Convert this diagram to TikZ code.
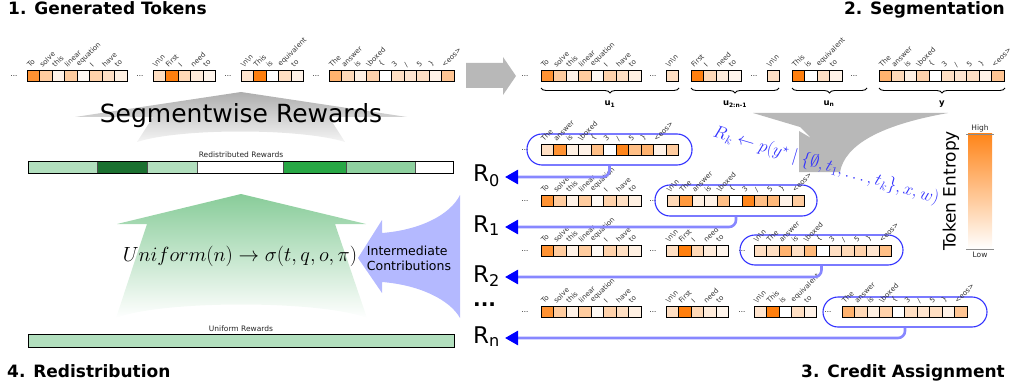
\RequirePackage{fix-cm}
\documentclass[tikz,border=0pt]{standalone}
\usepackage{amsmath,amssymb}
\usepackage[no-math]{fontspec}
\setmainfont{DejaVu Sans}
\usetikzlibrary{arrows.meta,decorations.pathreplacing}

\definecolor{ent}{RGB}{255,127,14}
\definecolor{gA}{RGB}{178,223,190}
\definecolor{gB}{RGB}{27,112,48}
\definecolor{gC}{RGB}{40,167,69}
\definecolor{gD}{RGB}{143,209,160}
\definecolor{agreen}{RGB}{136,204,153}
\definecolor{lblue}{RGB}{180,185,255}
\definecolor{fblue}{RGB}{50,50,255}
\definecolor{lineblue}{RGB}{135,135,255}

\newcommand\nn{\textbackslash n\textbackslash n}
\newcommand\bx{\textbackslash boxed}
\newcommand\tsl{/}
\newcommand\eos{<eos>}

\newcommand\GA{85/To,40/solve,10/this,40/linear,5/equation,35/I,25/have,12/to}
\newcommand\GB{25/\nn,100/First,30/I,15/need,8/to}
\newcommand\GBb{100/First,30/I,15/need,8/to}
\newcommand\GC{20/\nn,100/This,0/is,25/equivalent,10/to}
\newcommand\GCb{100/This,0/is,25/equivalent,10/to}
\newcommand\GD{60/The,30/answer,12/is,35/\bx,0/\{,25/3,20/\tsl,25/5,10/\},45/\eos}
\newcommand\NN{25/\nn}
\newcommand\RA{25/The,85/answer,12/is,10/\bx,50/\{,0/3,95/\tsl,50/5,60/\},10/\eos,40/{}}
\newcommand\RB{30/\nn,80/The,12/answer,10/is,50/\bx,0/\{,95/3,50/\tsl,55/5,10/\},40/\eos}
\newcommand\RC{25/\nn,25/The,60/answer,25/is,55/\bx,0/\{,25/3,30/\tsl,35/5,20/\},50/\eos}

\tikzset{
  cellbox/.style={draw=black, line width=0.7pt, minimum width=12.5pt, minimum height=11.5pt, inner sep=0pt, outer sep=0pt},
  toklabel/.style={font=\fontsize{7}{7}\selectfont, rotate=45, anchor=south west, inner sep=0.3pt, text=black!80},
  dots/.style={font=\fontsize{7}{7}\selectfont, inner sep=0pt},
  title/.style={font=\bfseries\fontsize{17}{17}\selectfont, inner sep=0pt},
  rlab/.style={font=\fontsize{23}{23}\selectfont, inner sep=0pt, anchor=base west},
  credbox/.style={draw=fblue, line width=1.1pt, rounded corners=15pt, inner sep=0pt},
  credarrow/.style={draw=lineblue, line width=2.6pt, rounded corners=7pt, -{Triangle[length=13pt,width=14pt,color=blue]}},
  barlab/.style={font=\fontsize{7.5}{7.5}\selectfont, inner sep=0pt, text=black!85},
  brlab/.style={font=\bfseries\fontsize{8.5}{8.5}\selectfont, inner sep=0pt},
  segbrace/.style={decorate, decoration={brace, mirror, amplitude=5pt}, line width=0.9pt},
}

\newcommand\cellrow[4]{%
  \foreach \v/\l [count=\i] in #4 {
    \node[cellbox, fill=ent!\v!white] (#1-\i) at ({#2+(\i-0.5)*12.5},{#3+5.75}) {};
    \node[toklabel] (#1-t\i) at ({#2+(\i-0.5)*12.5-3},{#3-1.5}) {\l};
  }}

\begin{document}
\begin{tikzpicture}[x=1pt,y=-1pt]
\useasboundingbox (0,0) rectangle (1012,385);

% titles
\node[title, anchor=base west] (T1) at (8,15) {1. Generated Tokens};
\node[title, anchor=base east] (T2) at (1005,15) {2. Segmentation};
\node[title, anchor=base east] (T3) at (1005,377) {3. Credit Assignment};
\node[title, anchor=base west] (T4) at (7,377) {4. Redistribution};

% ---- 1. generated tokens
\node[dots] (g-d1) at (14,76) {...};
\cellrow{g1}{27}{70}{\GA}
\node[dots] (g-d2) at (140,76) {...};
\cellrow{g2}{153}{70}{\GB}
\node[dots] (g-d3) at (228,76) {...};
\cellrow{g3}{241}{70}{\GC}
\node[dots] (g-d4) at (316,76) {...};
\cellrow{g4}{329}{70}{\GD}

% grey right arrow
\fill[black!28] (466,63) -- (503,63) -- (503,57) -- (516,76) -- (503,95) -- (503,88) -- (466,88) -- cycle;

% ---- 2. segmentation
\node[dots] (s-d1) at (525,76) {...};
\cellrow{s1}{541}{70}{\GA}
\node[dots] (s-d2) at (653,76) {...};
\cellrow{s2}{666}{70}{\NN}
\cellrow{s3}{691}{70}{\GBb}
\node[dots] (s-d3) at (754,76) {...};
\cellrow{s4}{767}{70}{\NN}
\cellrow{s5}{792}{70}{\GCb}
\node[dots] (s-d4) at (854,76) {...};
\cellrow{s6}{879}{70}{\GD}

\draw[segbrace] (541,88) -- (679,88);
\draw[segbrace] (691,88) -- (779,88);
\draw[segbrace] (792,88) -- (867,88);
\draw[segbrace] (879,88) -- (1005,88);
\node[brlab] (u1) at (610,104) {u\textsubscript{1}};
\node[brlab] (u2) at (735,104) {u\textsubscript{2:n-1}};
\node[brlab] (un) at (829,104) {u\textsubscript{n}};
\node[brlab] (uy) at (942,104) {y};

% grey funnel
\fill[black!28] (753,113) -- (948,113) .. controls (880,125) and (845,145) .. (840,172) -- (799,172) -- (799,131) -- (811,138) -- (800,127) -- cycle;

% ---- legend
\shade[top color=ent!95, bottom color=white] (968,134) rectangle (992,249);
\draw[black!45, line width=0.6pt] (966,249) -- (994,249);
\draw[black!45, line width=0.6pt] (966,134) -- (994,134);
\node[barlab] (hi) at (980,128) {High};
\node[barlab] (lo) at (980,255) {Low};
\node[font=\fontsize{17}{17}\selectfont, rotate=90, inner sep=0pt] (te) at (951,191) {Token Entropy};

% ---- 3. credit assignment rows
% row 0
\node[dots] (c0-d1) at (525,150) {...};
\node[credbox, minimum width=165pt, minimum height=31pt] (b0) at (609.5,149.5) {};
\cellrow{c0}{541}{144}{\RA}
% row 1
\node[dots] (c1-d1) at (525,201) {...};
\cellrow{c1a}{541}{195}{\GA}
\node[dots] (c1-d2) at (653,201) {...};
\node[credbox, minimum width=162pt, minimum height=31pt] (b1) at (736,200.5) {};
\cellrow{c1b}{667}{195}{\RB}
% row 2
\node[dots] (c2-d1) at (525,251) {...};
\cellrow{c2a}{541}{245}{\GA}
\node[dots] (c2-d2) at (653,251) {...};
\cellrow{c2b}{666}{245}{\GB}
\node[dots] (c2-d3) at (742,251) {...};
\node[credbox, minimum width=163pt, minimum height=30pt] (b2) at (821.5,250) {};
\cellrow{c2c}{754}{245}{\RC}
% row n
\node[dots] (c3-d1) at (525,312) {...};
\cellrow{c3a}{541}{306}{\GA}
\node[dots] (c3-d2) at (653,312) {...};
\cellrow{c3b}{666}{306}{\GB}
\node[dots] (c3-d3) at (742,312) {...};
\cellrow{c3c}{754}{306}{\GC}
\node[dots] (c3-d4) at (828,312) {...};
\node[credbox, minimum width=164pt, minimum height=30pt] (bn) at (905,312) {};
\cellrow{c3d}{842}{306}{\GD}

% R labels
\node[rlab] (R0) at (473,182) {R\textsubscript{0}};
\node[rlab] (R1) at (473,232) {R\textsubscript{1}};
\node[rlab] (R2) at (473,282) {R\textsubscript{2}};
\node[rlab, font=\bfseries\fontsize{20}{20}\selectfont] (Rd) at (473,306) {...};
\node[rlab] (Rn) at (473,343) {R\textsubscript{n}};

\coordinate (t0) at (505,177);
\coordinate (t1) at (505,227);
\coordinate (t2) at (505,277);
\coordinate (tn) at (505,338);
\draw[credarrow] (b0.south) |- (t0);
\draw[credarrow] (b1.south) |- (t1);
\draw[credarrow] (b2.south) |- (t2);
\draw[credarrow] (bn.south) |- (tn);

% formula
\node[text=fblue, rotate=-16.5, inner sep=0pt, font=\fontsize{17.5}{17.5}\selectfont] (fk) at (826,166)
  {$R_k \leftarrow p(y^\star \mid \{\emptyset, t_1, \ldots, t_k\}, x, w)$};

% ---- 4. redistribution
% grey up arrow
\shade[top color=black!32, bottom color=black!4] (241,92) -- (407,117) -- (329,117) -- (345,142) .. controls (300,128) and (180,128) .. (137,142) -- (153,117) -- (75,117) -- cycle;
\node[font=\fontsize{25}{25}\selectfont, inner sep=0pt] (sw) at (241,116) {Segmentwise Rewards};

\node[barlab] (rrl) at (241,155) {Redistributed Rewards};
\foreach \a/\b/\c [count=\k] in {28/97/gA,97/147/gB,147/197/gA,197/283/white,283/346/gC,346/415/gD,415/453/white}{
  \fill[\c] (\a,161) rectangle (\b,173);
  \draw[black!70, line width=0.5pt] (\a,161) -- (\a,173);
}
\draw[black, line width=0.8pt] (28,161) rectangle (453,173);

% green arrow
\shade[top color=agreen, middle color=agreen!55, bottom color=white] (241,194) -- (366,224) -- (335,224) -- (367,318) .. controls (320,300) and (162,300) .. (116,318) -- (147,224) -- (117,224) -- cycle;
\node[font=\fontsize{20.5}{20.5}\selectfont, inner sep=0pt] (fu) at (240,256) {$Uniform(n) \rightarrow \sigma(t,q,o,\pi)$};

% blue contributions arrow
\fill[lblue] (358,258) -- (382,220) -- (382,233) .. controls (420,230) and (450,215) .. (460,195) -- (460,318) .. controls (450,300) and (420,285) .. (382,282) -- (382,293) -- cycle;
\node[font=\fontsize{12.5}{15}\selectfont, align=left, inner sep=0pt] (ic) at (409,258) {Intermediate\\Contributions};

\node[barlab] (url) at (241,329) {Uniform Rewards};
\draw[black, line width=0.8pt, fill=gA] (28,334) rectangle (454,347);

\end{tikzpicture}
\end{document}
